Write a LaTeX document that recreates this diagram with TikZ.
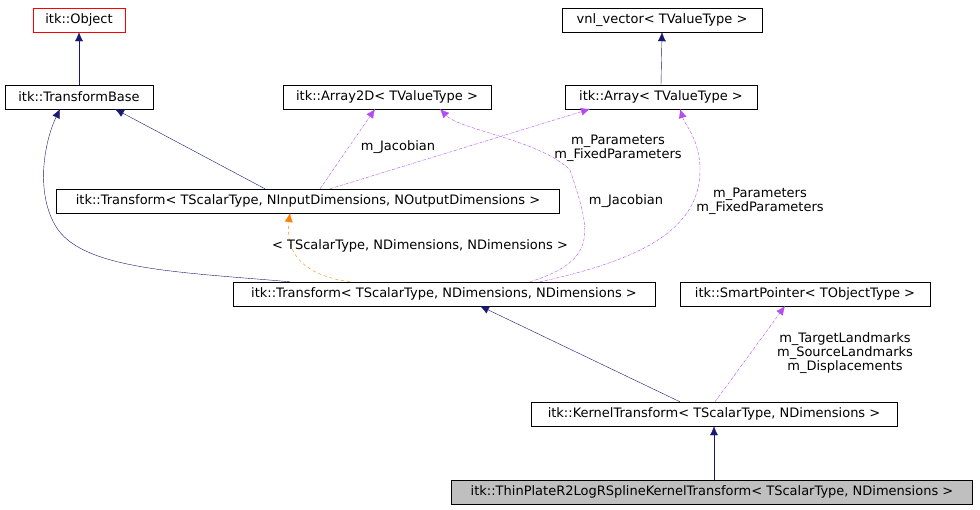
\documentclass[tikz,border=0pt]{standalone}
\usepackage{fontspec}
\setmainfont{DejaVu Sans}
\begin{document}
\begin{tikzpicture}[x=1pt,y=-1pt,
 box/.style={draw=black,fill=white,minimum height=24pt,inner sep=0pt,font=\fontsize{13}{15}\selectfont,anchor=center},
 inh/.style={draw=navy,-{Latex[length=9pt,width=8pt]}},
 use/.style={draw=violet!80,densely dash dot,-{Latex[length=9pt,width=8pt]}},
 tpl/.style={draw=orange,dashed,-{Latex[length=9pt,width=8pt]}},
 lbl/.style={font=\fontsize{13}{14}\selectfont,align=center,inner sep=1pt}]
\usetikzlibrary{arrows.meta}
\definecolor{navy}{RGB}{25,25,112}
\definecolor{violet}{RGB}{160,32,240}
\path[use as bounding box] (0,0) rectangle (980,509);
\node[box,draw=red,minimum width=92pt] (obj) at (79,20) {itk::Object};
\node[box,minimum width=200pt] (vnl) at (662,20) {vnl\_vector< TValueType >};
\node[box,minimum width=148pt] (tb) at (79,97) {itk::TransformBase};
\node[box,minimum width=208pt] (a2) at (387,97) {itk::Array2D< TValueType >};
\node[box,minimum width=192pt] (arr) at (661,97) {itk::Array< TValueType >};
\node[box,minimum width=503pt] (tio) at (308,201) {itk::Transform< TScalarType, NInputDimensions, NOutputDimensions >};
\node[box,minimum width=422pt] (tnd) at (444,294) {itk::Transform< TScalarType, NDimensions, NDimensions >};
\node[box,minimum width=250pt] (sp) at (805,294) {itk::SmartPointer< TObjectType >};
\node[box,minimum width=366pt] (kt) at (714,414) {itk::KernelTransform< TScalarType, NDimensions >};
\node[box,fill=black!25,minimum width=521pt] (tp) at (712,492) {itk::ThinPlateR2LogRSplineKernelTransform< TScalarType, NDimensions >};
\draw[inh] (tb.north) -- (obj.south);
\draw[inh] (arr.north) -- (vnl.south);
\draw[inh] (tio.north -| 265,0) -- (115,109);
\draw[inh] (tnd.north -| 290,0) .. controls (180,272) and (80,270) .. (55,225) .. controls (35,190) and (45,140) .. (60,109);
\draw[inh] (kt.north -| 680,0) -- (480,306);
\draw[inh] (tp.north -| 714,0) -- (kt.south -| 714,0);
\draw[tpl] (tnd.north -| 350,0) .. controls (300,275) and (285,250) .. (290,213);
\node[lbl] at (420,246) {< TScalarType, NDimensions, NDimensions >};
\draw[use] (kt.north -| 715,0) -- (785,306);
\node[lbl] at (845,353) {m\_TargetLandmarks\\m\_SourceLandmarks\\m\_Displacements};
\draw[use] (tio.north -| 320,0) -- (375,109);
\node[lbl] at (398,147) {m\_Jacobian};
\draw[use] (tio.north -| 330,0) -- (590,109);
\node[lbl] at (618,148) {m\_Parameters\\m\_FixedParameters};
\draw[use] (tnd.north -| 530,0) .. controls (600,260) and (590,230) .. (570,170) .. controls (540,140) and (460,130) .. (440,109);
\node[lbl] at (626,201) {m\_Jacobian};
\draw[use] (tnd.north -| 540,0) .. controls (640,260) and (700,230) .. (700,170) .. controls (700,140) and (685,125) .. (680,109);
\node[lbl] at (760,201) {m\_Parameters\\m\_FixedParameters};
\end{tikzpicture}
\end{document}
